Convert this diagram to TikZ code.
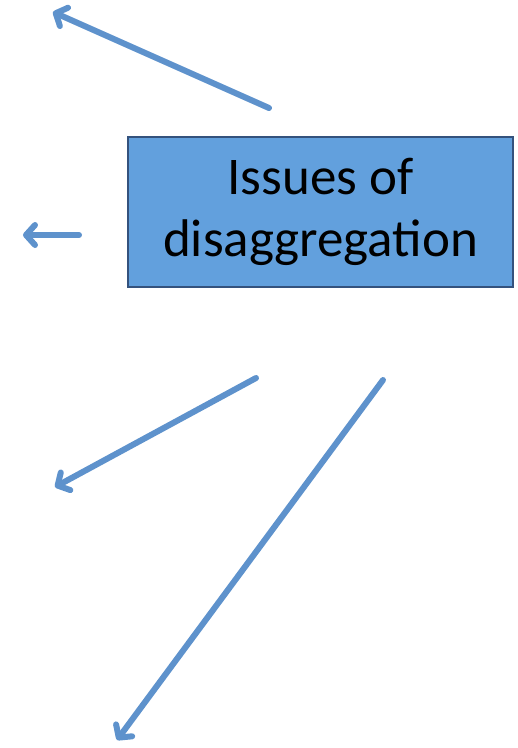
\documentclass[tikz,border=0pt]{standalone}
\usepackage{fontspec}
\setmainfont{Carlito}
\usetikzlibrary{arrows.meta}
\definecolor{boxfill}{RGB}{98,160,221}
\definecolor{boxline}{RGB}{52,82,125}
\definecolor{arrowblue}{RGB}{94,146,204}
\tikzset{
  issuebox/.style={draw=boxline, line width=1.3pt, fill=boxfill, minimum width=385pt, minimum height=150pt, inner sep=0pt, align=center, font=\fontsize{53}{62}\selectfont},
  bluearrow/.style={draw=arrowblue, line width=6pt, line cap=round, -{Straight Barb[length=9pt, width=20pt, line cap=round, line join=round]}}
}
\begin{document}
\begin{tikzpicture}[x=1pt,y=-1pt]
\useasboundingbox (0,0) rectangle (518,748);
\node[issuebox] (box) at (320.5,212) {Issues of\\disaggregation};
\coordinate (a1s) at (269,108);
\coordinate (a1e) at (53,12);
\coordinate (a2s) at (79,235);
\coordinate (a2e) at (23,235);
\coordinate (a3s) at (256,378);
\coordinate (a3e) at (55,487);
\coordinate (a4s) at (383,380);
\coordinate (a4e) at (117,740);
\draw[bluearrow] (a1s) -- (a1e);
\draw[bluearrow] (a2s) -- (a2e);
\draw[bluearrow] (a3s) -- (a3e);
\draw[bluearrow] (a4s) -- (a4e);
\end{tikzpicture}
\end{document}
